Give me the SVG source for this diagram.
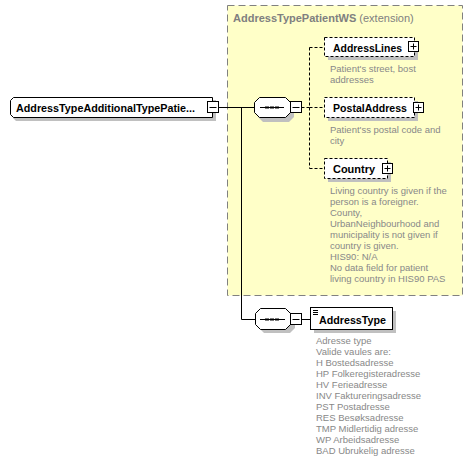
<svg xmlns="http://www.w3.org/2000/svg" width="473" height="461" viewBox="0 0 473 461">
<defs>
<style>
.lbl{font-family:"Liberation Sans",Arial,sans-serif;font-weight:bold;font-size:10.6px;fill:#000}
.desc{font-family:"Liberation Sans",Arial,sans-serif;font-size:9.5px;fill:#888}
.ttl{font-family:"Liberation Sans",Arial,sans-serif;font-size:11px;fill:#808080}
.shadow{fill:#c0c0c0;stroke:none}
.box{fill:#fff;stroke:#000;stroke-width:1}
.opt{fill:#fff;stroke:#000;stroke-width:1;stroke-dasharray:3,2}
.btn{fill:#fff;stroke:#000;stroke-width:1}
.sign{stroke:#000;stroke-width:1;fill:none}
.wire{stroke:#000;stroke-width:1;fill:none}
.dwire{stroke:#000;stroke-width:1;fill:none;stroke-dasharray:3,2}
</style>
</defs>
<rect width="473" height="461" fill="#fff"/>

<g id="extension">
<rect x="227.5" y="5.5" width="235" height="290" fill="#ffffc8" stroke="#808080" stroke-dasharray="7,4"/>
<text class="ttl" x="233" y="22"><tspan font-weight="bold">AddressTypePatientWS</tspan> (extension)</text>
</g>

<g id="connectors">
<path class="wire" d="M218.5,107.5 H254.5"/>
<path class="wire" d="M241.5,107.5 V319.5 H255"/>
<path class="dwire" d="M301.5,107.5 H309.5"/>
<path class="dwire" d="M309.5,47.5 V168.5"/>
<path class="dwire" d="M309.5,47.5 H324"/>
<path class="dwire" d="M309.5,107.5 H324"/>
<path class="dwire" d="M309.5,168.5 H324"/>
<path class="wire" d="M301.5,319.5 H310.5"/>
</g>

<g id="root">
<path class="shadow" d="M16,100 H216 V121 H16 L13,118 V103 Z"/>
<path class="box" d="M13.5,97.5 H212.5 V117.5 H13.5 L10.5,114.5 V100.5 Z"/>
<text class="lbl" x="16" y="111.5" textLength="179" lengthAdjust="spacingAndGlyphs">AddressTypeAdditionalTypePatie...</text>
<rect class="btn" x="207.5" y="101.5" width="11" height="11"/>
<path class="sign" d="M209.5,107.5 H216.5"/>
</g>

<g id="seq1">
<path class="shadow" d="M263,101 H289 L294,106 V117 L289,122 H263 L258,117 V106 Z"/>
<path class="box" d="M259.5,97.5 H285.5 L290.5,102.5 V112.5 L285.5,117.5 H259.5 L254.5,112.5 V102.5 Z"/>
<path d="M265,106.5 h4 v2 h-4z M270,106.5 h4 v2 h-4z M275,106.5 h4 v2 h-4z" fill="#000"/>
<path class="wire" d="M260,107.5 H284"/>
<rect class="btn" x="290.5" y="101.5" width="11" height="11"/>
<path class="sign" d="M292.5,107.5 H299.5"/>
</g>

<g id="AddressLines">
<rect class="shadow" x="328" y="41" width="90" height="19"/>
<rect class="opt" x="324.5" y="37.5" width="90" height="19"/>
<text class="lbl" x="333" y="51.5" textLength="69" lengthAdjust="spacingAndGlyphs">AddressLines</text>
<rect class="btn" x="408.5" y="41.5" width="10" height="10"/>
<path class="sign" d="M410.5,46.5 H416.5 M413.5,43.5 V49.5"/>
<text class="desc" x="330" y="72">Patient's street, bost</text>
<text class="desc" x="330" y="83">addresses</text>
</g>

<g id="PostalAddress">
<rect class="shadow" x="328" y="101" width="90" height="20"/>
<rect class="opt" x="324.5" y="97.5" width="90" height="20"/>
<text class="lbl" x="333" y="112" textLength="74" lengthAdjust="spacingAndGlyphs">PostalAddress</text>
<rect class="btn" x="413.5" y="102.5" width="10" height="10"/>
<path class="sign" d="M415.5,107.5 H421.5 M418.5,104.5 V110.5"/>
<text class="desc" x="330" y="133">Patient'ss postal code and</text>
<text class="desc" x="330" y="144">city</text>
</g>

<g id="Country">
<rect class="shadow" x="328" y="162" width="63" height="20"/>
<rect class="opt" x="324.5" y="158.5" width="63" height="20"/>
<text class="lbl" x="333" y="173" textLength="42" lengthAdjust="spacingAndGlyphs">Country</text>
<rect class="btn" x="382.5" y="163.5" width="10" height="10"/>
<path class="sign" d="M384.5,168.5 H390.5 M387.5,165.5 V171.5"/>
<text class="desc" x="330" y="194">Living country is given if the</text>
<text class="desc" x="330" y="205">person is a foreigner.</text>
<text class="desc" x="330" y="216">County,</text>
<text class="desc" x="330" y="227">UrbanNeighbourhood and</text>
<text class="desc" x="330" y="238">municipality is not given if</text>
<text class="desc" x="330" y="249">country is given.</text>
<text class="desc" x="330" y="260">HIS90: N/A</text>
<text class="desc" x="330" y="271">No data field for patient</text>
<text class="desc" x="330" y="282">living country in HIS90 PAS</text>
</g>

<g id="seq2">
<path class="shadow" d="M264,312 H290 L295,317 V328 L290,333 H264 L259,328 V317 Z"/>
<path class="box" d="M260.5,308.5 H285.5 L290.5,313.5 V324.5 L285.5,329.5 H260.5 L255.5,324.5 V313.5 Z"/>
<path d="M265,318.5 h4 v2 h-4z M270,318.5 h4 v2 h-4z M275,318.5 h4 v2 h-4z" fill="#000"/>
<path class="wire" d="M260,319.5 H285"/>
<rect class="btn" x="290.5" y="313.5" width="11" height="11"/>
<path class="sign" d="M292.5,319.5 H299.5"/>
</g>

<g id="AddressType">
<rect class="shadow" x="314" y="311" width="82" height="22"/>
<rect class="box" x="310.5" y="307.5" width="82" height="22"/>
<path class="sign" d="M313,310.5 H318 M313,312.5 H318 M313,314.5 H318"/>
<text class="lbl" x="319" y="323.5" font-size="11.5px" textLength="67" lengthAdjust="spacingAndGlyphs">AddressType</text>
<text class="desc" x="316" y="344">Adresse type</text>
<text class="desc" x="316" y="355">Valide vaules are:</text>
<text class="desc" x="316" y="366">H Bostedsadresse</text>
<text class="desc" x="316" y="377">HP Folkeregisteradresse</text>
<text class="desc" x="316" y="388">HV Ferieadresse</text>
<text class="desc" x="316" y="399">INV Faktureringsadresse</text>
<text class="desc" x="316" y="410">PST Postadresse</text>
<text class="desc" x="316" y="421">RES Besøksadresse</text>
<text class="desc" x="316" y="432">TMP Midlertidig adresse</text>
<text class="desc" x="316" y="443">WP Arbeidsadresse</text>
<text class="desc" x="316" y="454">BAD Ubrukelig adresse</text>
</g>
</svg>
